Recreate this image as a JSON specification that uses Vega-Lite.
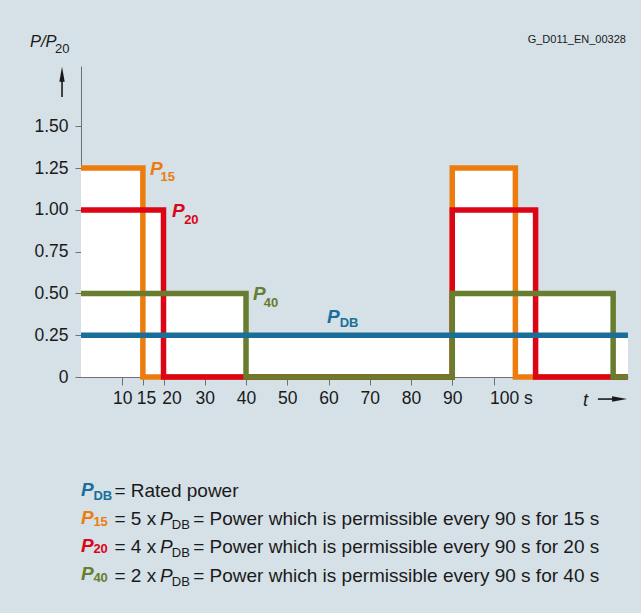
{
  "$schema": "https://vega.github.io/schema/vega-lite/v6.json",
  "autosize": {"type": "none"},
  "padding": {"left": 81, "top": 66, "right": 13, "bottom": 236},
  "width": 547,
  "height": 311,
  "background": "#d5e0e7",
  "config": {
    "view": {"stroke": null},
    "font": "Liberation Sans",
    "axis": {
      "labelFont": "Liberation Sans",
      "labelFontSize": 17.5,
      "labelColor": "#1a1a1a",
      "domainColor": "#707070",
      "tickColor": "#707070",
      "grid": false,
      "title": null
    }
  },
  "datasets": {
    "series": [
      {"series": "P15", "t": 0, "v": 1.25},
      {"series": "P15", "t": 15, "v": 0},
      {"series": "P15", "t": 90, "v": 1.25},
      {"series": "P15", "t": 105.3, "v": 0},
      {"series": "P15", "t": 132.6, "v": 0},
      {"series": "P20", "t": 0, "v": 1},
      {"series": "P20", "t": 20, "v": 0},
      {"series": "P20", "t": 90, "v": 1},
      {"series": "P20", "t": 110.2, "v": 0},
      {"series": "P20", "t": 132.6, "v": 0},
      {"series": "P40", "t": 0, "v": 0.5},
      {"series": "P40", "t": 40, "v": 0},
      {"series": "P40", "t": 90, "v": 0.5},
      {"series": "P40", "t": 129, "v": 0},
      {"series": "P40", "t": 132.6, "v": 0},
      {"series": "PDB", "t": 0, "v": 0.25},
      {"series": "PDB", "t": 132.6, "v": 0.25}
    ],
    "texts": [
      {"role": "cP", "series": "P15", "text": "P", "t": 16.73, "v": 1.209},
      {"role": "cSub", "series": "P15", "text": "15", "t": 19.3, "v": 1.173},
      {"role": "cP", "series": "P20", "text": "P", "t": 22.06, "v": 0.959},
      {"role": "cSub", "series": "P20", "text": "20", "t": 25.0, "v": 0.916},
      {"role": "cP", "series": "P40", "text": "P", "t": 41.7, "v": 0.461},
      {"role": "cSub", "series": "P40", "text": "40", "t": 44.3, "v": 0.419},
      {"role": "cP", "series": "PDB", "text": "P", "t": 59.64, "v": 0.321},
      {"role": "cSub", "series": "PDB", "text": "DB", "t": 62.7, "v": 0.297},

      {"role": "cP", "series": "PDB", "text": "P", "t": 0, "v": -0.712},
      {"role": "cSub", "series": "PDB", "text": "DB", "t": 3.0, "v": -0.736},
      {"role": "plain", "series": "none", "text": "= Rated power", "t": 8.1, "v": -0.716},

      {"role": "cP", "series": "P15", "text": "P", "t": 0, "v": -0.877},
      {"role": "cSub", "series": "P15", "text": "15", "t": 3.0, "v": -0.889},
      {"role": "plain", "series": "none", "text": "= 5 x", "t": 8.1, "v": -0.886},
      {"role": "iP", "series": "none", "text": "P", "t": 19.15, "v": -0.886},
      {"role": "sub", "series": "none", "text": "DB", "t": 22.0, "v": -0.910},
      {"role": "plain", "series": "none", "text": "= Power which is permissible every 90 s for 15 s", "t": 27.2, "v": -0.886},

      {"role": "cP", "series": "P20", "text": "P", "t": 0, "v": -1.046},
      {"role": "cSub", "series": "P20", "text": "20", "t": 3.0, "v": -1.055},
      {"role": "plain", "series": "none", "text": "= 4 x", "t": 8.1, "v": -1.055},
      {"role": "iP", "series": "none", "text": "P", "t": 19.15, "v": -1.055},
      {"role": "sub", "series": "none", "text": "DB", "t": 22.0, "v": -1.079},
      {"role": "plain", "series": "none", "text": "= Power which is permissible every 90 s for 20 s", "t": 27.2, "v": -1.055},

      {"role": "cP", "series": "P40", "text": "P", "t": 0, "v": -1.215},
      {"role": "cSub", "series": "P40", "text": "40", "t": 3.0, "v": -1.225},
      {"role": "plain", "series": "none", "text": "= 2 x", "t": 8.1, "v": -1.225},
      {"role": "iP", "series": "none", "text": "P", "t": 19.15, "v": -1.225},
      {"role": "sub", "series": "none", "text": "DB", "t": 22.0, "v": -1.249},
      {"role": "plain", "series": "none", "text": "= Power which is permissible every 90 s for 40 s", "t": 27.2, "v": -1.225},

      {"role": "yTitle", "series": "none", "text": "P/P", "t": -12.36, "v": 1.975},
      {"role": "ySub", "series": "none", "text": "20", "t": -6.3, "v": 1.939},
      {"role": "code", "series": "none", "text": "G_D011_EN_00328", "t": 132.1, "v": 1.999},
      {"role": "tLabel", "series": "none", "text": "t", "t": 121.7, "v": -0.174}
    ],
    "shafts": [
      {"t": -4.6, "t2": -4.6, "v": 1.676, "v2": 1.78},
      {"t": 125.3, "t2": 128.9, "v": -0.132, "v2": -0.132}
    ],
    "heads": [
      {"dir": "up", "t": -4.6, "v": 1.811},
      {"dir": "right", "t": 130.55, "v": -0.132}
    ]
  },
  "layer": [
    {
      "data": {"name": "series"},
      "mark": {"type": "area", "interpolate": "step-after", "fill": "white", "opacity": 1},
      "encoding": {
        "x": {
          "field": "t", "type": "quantitative",
          "scale": {"domain": [0, 132.6], "nice": false, "zero": false},
          "axis": {
            "values": [10, 15, 20, 30, 40, 50, 60, 70, 80, 90, 100],
            "tickSize": 8,
            "labelPadding": 4,
            "labelOverlap": false,
            "labelFlush": false,
            "labelExpr": "datum.value == 100 ? '100 s' : datum.label",
            "labelAlign": {"condition": {"test": "datum.value == 100", "value": "left"}, "value": "center"},
            "labelOffset": {"condition": [{"test": "datum.value == 20", "value": 8}, {"test": "datum.value == 15", "value": 3}, {"test": "datum.value == 100", "value": -4}], "value": 0}
          }
        },
        "y": {
          "field": "v", "type": "quantitative",
          "stack": null,
          "scale": {"domain": [0, 1.861], "nice": false, "zero": false},
          "axis": {
            "values": [0, 0.25, 0.5, 0.75, 1, 1.25, 1.5],
            "tickSize": 6,
            "labelPadding": 7,
            "labelExpr": "datum.value == 0 ? '0' : format(datum.value, '.2f')"
          }
        },
        "detail": {"field": "series"}
      }
    },
    {
      "data": {"name": "series"},
      "transform": [{"filter": "datum.series == 'P15'"}],
      "mark": {"type": "line", "interpolate": "step-after", "strokeWidth": 5.5, "strokeCap": "butt", "strokeJoin": "miter"},
      "encoding": {
        "x": {"field": "t", "type": "quantitative"},
        "y": {"field": "v", "type": "quantitative"},
        "color": {"field": "series", "type": "nominal", "legend": null,
          "scale": {"domain": ["PDB", "P15", "P20", "P40"], "range": ["#1a6f9a", "#ec7c0e", "#dc0515", "#687d2d"]}}
      }
    },
    {
      "data": {"name": "series"},
      "transform": [{"filter": "datum.series == 'P20'"}],
      "mark": {"type": "line", "interpolate": "step-after", "strokeWidth": 5.5, "strokeCap": "butt", "strokeJoin": "miter"},
      "encoding": {
        "x": {"field": "t", "type": "quantitative"},
        "y": {"field": "v", "type": "quantitative"},
        "color": {"field": "series", "type": "nominal", "legend": null}
      }
    },
    {
      "data": {"name": "series"},
      "transform": [{"filter": "datum.series == 'P40'"}],
      "mark": {"type": "line", "interpolate": "step-after", "strokeWidth": 5.5, "strokeCap": "butt", "strokeJoin": "miter"},
      "encoding": {
        "x": {"field": "t", "type": "quantitative"},
        "y": {"field": "v", "type": "quantitative"},
        "color": {"field": "series", "type": "nominal", "legend": null}
      }
    },
    {
      "data": {"name": "series"},
      "transform": [{"filter": "datum.series == 'PDB'"}],
      "mark": {"type": "line", "interpolate": "step-after", "strokeWidth": 5.5, "strokeCap": "butt", "strokeJoin": "miter"},
      "encoding": {
        "x": {"field": "t", "type": "quantitative"},
        "y": {"field": "v", "type": "quantitative"},
        "color": {"field": "series", "type": "nominal", "legend": null}
      }
    },
    {
      "data": {"name": "texts"},
      "transform": [{"filter": "datum.role == 'cP'"}],
      "mark": {"type": "text", "align": "left", "baseline": "alphabetic", "fontSize": 19, "fontWeight": "bold", "fontStyle": "italic", "font": "Liberation Sans"},
      "encoding": {
        "x": {"field": "t", "type": "quantitative"},
        "y": {"field": "v", "type": "quantitative"},
        "text": {"field": "text"},
        "color": {"field": "series", "type": "nominal", "legend": null}
      }
    },
    {
      "data": {"name": "texts"},
      "transform": [{"filter": "datum.role == 'cSub'"}],
      "mark": {"type": "text", "align": "left", "baseline": "alphabetic", "fontSize": 13, "fontWeight": "bold", "font": "Liberation Sans"},
      "encoding": {
        "x": {"field": "t", "type": "quantitative"},
        "y": {"field": "v", "type": "quantitative"},
        "text": {"field": "text"},
        "color": {"field": "series", "type": "nominal", "legend": null}
      }
    },
    {
      "data": {"name": "texts"},
      "transform": [{"filter": "datum.role == 'plain'"}],
      "mark": {"type": "text", "align": "left", "baseline": "alphabetic", "fontSize": 19, "font": "Liberation Sans", "color": "#1a1a1a"},
      "encoding": {
        "x": {"field": "t", "type": "quantitative"},
        "y": {"field": "v", "type": "quantitative"},
        "text": {"field": "text"}
      }
    },
    {
      "data": {"name": "texts"},
      "transform": [{"filter": "datum.role == 'iP'"}],
      "mark": {"type": "text", "align": "left", "baseline": "alphabetic", "fontSize": 19, "fontStyle": "italic", "font": "Liberation Sans", "color": "#1a1a1a"},
      "encoding": {
        "x": {"field": "t", "type": "quantitative"},
        "y": {"field": "v", "type": "quantitative"},
        "text": {"field": "text"}
      }
    },
    {
      "data": {"name": "texts"},
      "transform": [{"filter": "datum.role == 'sub'"}],
      "mark": {"type": "text", "align": "left", "baseline": "alphabetic", "fontSize": 13, "font": "Liberation Sans", "color": "#1a1a1a"},
      "encoding": {
        "x": {"field": "t", "type": "quantitative"},
        "y": {"field": "v", "type": "quantitative"},
        "text": {"field": "text"}
      }
    },
    {
      "data": {"name": "texts"},
      "transform": [{"filter": "datum.role == 'yTitle'"}],
      "mark": {"type": "text", "align": "left", "baseline": "alphabetic", "fontSize": 16.5, "fontStyle": "italic", "font": "Liberation Sans", "color": "#1a1a1a"},
      "encoding": {
        "x": {"field": "t", "type": "quantitative"},
        "y": {"field": "v", "type": "quantitative"},
        "text": {"field": "text"}
      }
    },
    {
      "data": {"name": "texts"},
      "transform": [{"filter": "datum.role == 'ySub'"}],
      "mark": {"type": "text", "align": "left", "baseline": "alphabetic", "fontSize": 13, "font": "Liberation Sans", "color": "#1a1a1a"},
      "encoding": {
        "x": {"field": "t", "type": "quantitative"},
        "y": {"field": "v", "type": "quantitative"},
        "text": {"field": "text"}
      }
    },
    {
      "data": {"name": "texts"},
      "transform": [{"filter": "datum.role == 'code'"}],
      "mark": {"type": "text", "align": "right", "baseline": "alphabetic", "fontSize": 11, "font": "Liberation Sans", "color": "#1a1a1a"},
      "encoding": {
        "x": {"field": "t", "type": "quantitative"},
        "y": {"field": "v", "type": "quantitative"},
        "text": {"field": "text"}
      }
    },
    {
      "data": {"name": "texts"},
      "transform": [{"filter": "datum.role == 'tLabel'"}],
      "mark": {"type": "text", "align": "left", "baseline": "alphabetic", "fontSize": 18, "fontStyle": "italic", "font": "Liberation Sans", "color": "#1a1a1a"},
      "encoding": {
        "x": {"field": "t", "type": "quantitative"},
        "y": {"field": "v", "type": "quantitative"},
        "text": {"field": "text"}
      }
    },
    {
      "data": {"name": "shafts"},
      "mark": {"type": "rule", "strokeWidth": 1.6, "color": "#1a1a1a"},
      "encoding": {
        "x": {"field": "t", "type": "quantitative"},
        "x2": {"field": "t2"},
        "y": {"field": "v", "type": "quantitative"},
        "y2": {"field": "v2"}
      }
    },
    {
      "data": {"name": "heads"},
      "mark": {"type": "point", "filled": true, "size": 225, "opacity": 1, "color": "#1a1a1a", "strokeWidth": 0},
      "encoding": {
        "x": {"field": "t", "type": "quantitative"},
        "y": {"field": "v", "type": "quantitative"},
        "shape": {"field": "dir", "type": "nominal", "legend": null,
          "scale": {"domain": ["up", "right"], "range": ["M-0.36,1L0,-1L0.36,1Z", "M-1,-0.36L1,0L-1,0.36Z"]}}
      }
    }
  ]
}
